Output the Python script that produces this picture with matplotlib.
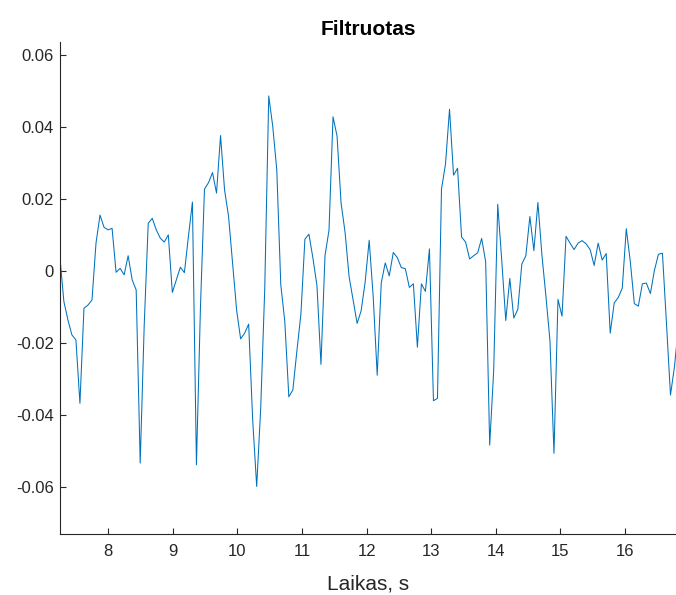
import numpy as np
import matplotlib
matplotlib.use("Agg")
import matplotlib.pyplot as plt

plt.rcParams['font.family'] = ['Liberation Sans', 'DejaVu Sans']
plt.rcParams['axes.unicode_minus'] = False

# filtered signal, sampled on a uniform time grid
t_start = 7.25
dt = 0.0622
signal = [
    0.0041, -0.0084, -0.0135, -0.0177, -0.0191, -0.0367, -0.0103, -0.0094, -0.0080, 0.0078,
    0.0156, 0.0122, 0.0115, 0.0119, -0.0003, 0.0008, -0.0010, 0.0043, -0.0024, -0.0052,
    -0.0533, -0.0150, 0.0133, 0.0147, 0.0115, 0.0092, 0.0081, 0.0101, -0.0059, -0.0024,
    0.0011, -0.0004, 0.0096, 0.0192, -0.0538, -0.0100, 0.0228, 0.0246, 0.0274, 0.0217,
    0.0377, 0.0226, 0.0152, 0.0022, -0.0108, -0.0188, -0.0172, -0.0147, -0.0413, -0.0598,
    -0.0380, -0.0050, 0.0487, 0.0402, 0.0281, -0.0038, -0.0140, -0.0349, -0.0330, -0.0222,
    -0.0120, 0.0089, 0.0103, 0.0036, -0.0040, -0.0259, 0.0043, 0.0114, 0.0429, 0.0376,
    0.0190, 0.0108, -0.0015, -0.0080, -0.0145, -0.0110, -0.0030, 0.0086, -0.0070, -0.0289,
    -0.0033, 0.0023, -0.0013, 0.0052, 0.0038, 0.0010, 0.0007, -0.0045, -0.0035, -0.0211,
    -0.0035, -0.0056, 0.0062, -0.0360, -0.0353, 0.0228, 0.0298, 0.0450, 0.0267, 0.0286,
    0.0095, 0.0081, 0.0034, 0.0043, 0.0051, 0.0091, 0.0026, -0.0483, -0.0274, 0.0186,
    0.0030, -0.0137, -0.0020, -0.0130, -0.0106, 0.0020, 0.0043, 0.0152, 0.0057, 0.0191,
    0.0045, -0.0070, -0.0193, -0.0506, -0.0078, -0.0125, 0.0097, 0.0078, 0.0060, 0.0078,
    0.0085, 0.0076, 0.0060, 0.0016, 0.0078, 0.0031, 0.0049, -0.0172, -0.0088, -0.0073,
    -0.0047, 0.0118, 0.0027, -0.0090, -0.0097, -0.0035, -0.0033, -0.0062, 0.0002, 0.0047,
    0.0050, -0.0144, -0.0344, -0.0265, -0.0150,
]
t = t_start + dt * np.arange(len(signal))

x_ticks = [8, 9, 10, 11, 12, 13, 14, 15, 16]
y_ticks = [-0.06, -0.04, -0.02, 0, 0.02, 0.04, 0.06]
y_labels = ['-0.06', '-0.04', '-0.02', '0', '0.02', '0.04', '0.06']

fig = plt.figure(figsize=(6.76, 5.95), dpi=100)
ax = fig.add_axes([0.0892, 0.102, 0.9108, 0.8269])
ax.plot(t, signal, color='#0072BD', lw=0.75)

ax.set_xlim(7.257, 16.79)
ax.set_ylim(-0.0731, 0.0636)
ax.set_xticks(x_ticks)
ax.set_yticks(y_ticks)
ax.set_yticklabels(y_labels)

axis_col = '#262626'
for side in ['top', 'right']:
    ax.spines[side].set_visible(False)
for side in ['left', 'bottom']:
    ax.spines[side].set_color(axis_col)
    ax.spines[side].set_linewidth(0.8)
ax.tick_params(direction='in', length=4.5, width=0.8, colors=axis_col,
               labelsize=12)
ax.tick_params(axis='y', pad=4.5)
ax.tick_params(axis='x', pad=7)

ax.set_title('Filtruotas', fontsize=15, fontweight='bold', color='black', pad=5)
ax.set_xlabel('Laikas, s', fontsize=15, color=axis_col, labelpad=11)

fig.savefig('out.png', dpi=100)
